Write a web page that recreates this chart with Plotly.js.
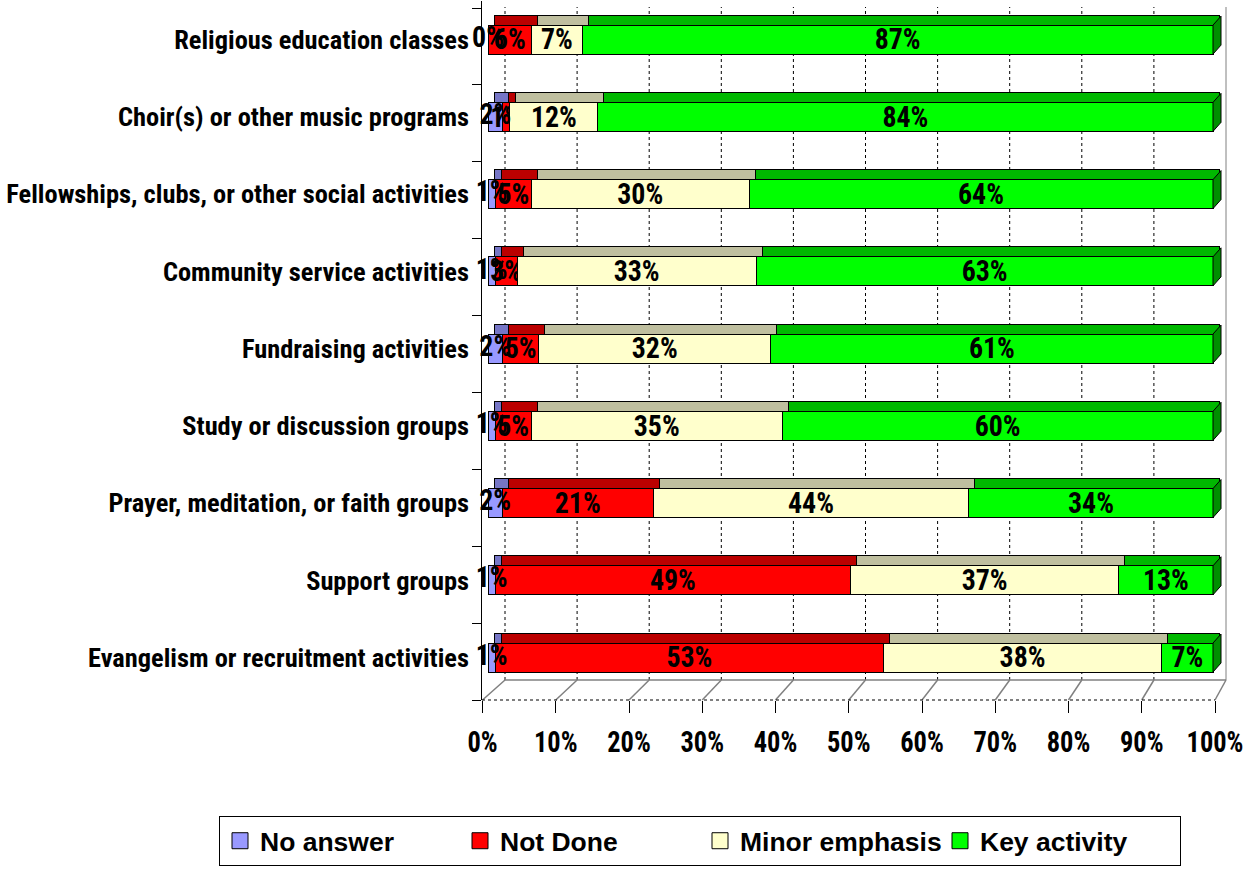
<!DOCTYPE html>
<html><head><meta charset="utf-8">
<script src="https://cdn.plot.ly/plotly-3.0.1.min.js"></script>
<style>html,body{margin:0;padding:0;background:#fff}#chart{width:1245px;height:874px}</style>
</head><body><div id="chart"></div>
<script>
// ---- data ----
const categories = [
  "Religious education classes",
  "Choir(s) or other music programs",
  "Fellowships, clubs, or other social activities",
  "Community service activities",
  "Fundraising activities",
  "Study or discussion groups",
  "Prayer, meditation, or faith groups",
  "Support groups",
  "Evangelism or recruitment activities"
];
const noAnswer      = [0, 2, 1, 1, 2, 1, 2, 1, 1];
const notDone       = [6, 1, 5, 3, 5, 5, 21, 49, 53];
const minorEmphasis = [7, 12, 30, 33, 32, 35, 44, 37, 38];
const keyActivity   = [87, 84, 64, 63, 61, 60, 34, 13, 7];
const seriesNames   = ["No answer", "Not Done", "Minor emphasis", "Key activity"];
const xTickValues   = [0, 10, 20, 30, 40, 50, 60, 70, 80, 90, 100];

// ---- styles ----
const frontColors = ["#9999ff", "#ff0000", "#ffffcc", "#00ff00"];
const topColors   = ["#7676c6", "#bb0000", "#bfbf9f", "#00b800"];
const sideColor   = "#008f00";
const WIDE = "'Liberation Sans', Arial, sans-serif";

// ---- font selection (a condensed face if one is installed) ----
function measure(text, family, size) {
  const s = document.createElement("span");
  s.style.cssText = "position:absolute;left:0;top:0;visibility:hidden;white-space:nowrap;font-weight:bold;font-size:" + size + "px;font-family:" + family;
  s.textContent = text;
  document.body.appendChild(s);
  const w = s.getBoundingClientRect().width;
  s.remove();
  return w;
}
const probe = "Fellowships, clubs, or other social activities";
const baseW = measure(probe, "'Liberation Sans'", 100);
const narrowCandidates = ["'Liberation Sans Narrow'", "'Arial Narrow'", "'DejaVu Sans Condensed'", "'Roboto Condensed'", "'Open Sans Condensed'"];
let NARROW = WIDE;
for (const f of narrowCandidates) {
  if (measure(probe, f + ", 'Liberation Sans'", 100) < baseW * 0.93) { NARROW = f + ", " + WIDE; break; }
}
function fitSize(text, family, targetPx) { return 100 * targetPx / measure(text, family, 100); }
const catSize  = fitSize(probe, NARROW, 463);
const tickSize = fitSize("100%", NARROW, 57);
const barSize  = fitSize("87%", NARROW, 46);
const legSize  = fitSize("No answer", WIDE, 134);

// ---- geometry (pixels) ----
const W = 1245, H = 874;
const L = 482, R = 1228, T = 1, B = 700;
function rangeFor(zeroPx, hundredPx) {
  const s = (hundredPx - zeroPx) / 100;
  return [(L - zeroPx) / s, (R - zeroPx) / s];
}
const yRange = [8.55, -0.5];
const pxPerCat = (B - T) / (yRange[0] - yRange[1]);
const barW = 29 / pxPerCat;
const topW = 10 / pxPerCat;
const px2paperX = p => (p - L) / (R - L);
const px2paperY = p => (B - p) / (B - T);

const allSeries = [noAnswer, notDone, minorEmphasis, keyActivity];
const totals = categories.map((c, i) => allSeries.reduce((s, a) => s + a[i], 0));

const traces = [];
// top faces (3D effect) on a slightly shifted axis
allSeries.forEach((vals, k) => {
  traces.push({
    type: "bar", orientation: "h", x: vals, y: categories,
    xaxis: "x2", yaxis: "y",
    width: topW, offset: -(barW / 2 + topW),
    marker: { color: topColors[k], line: { color: "#000", width: 1 } },
    showlegend: false, hoverinfo: "skip"
  });
});
// front faces
allSeries.forEach((vals, k) => {
  traces.push({
    type: "bar", orientation: "h", x: vals, y: categories,
    xaxis: "x", yaxis: "y",
    width: barW,
    marker: { color: frontColors[k], line: { color: "#000", width: 1 } },
    text: k === 0 ? undefined : vals.map(v => v + "%"),
    textposition: k === 0 ? "none" : "inside",
    insidetextanchor: "middle", textangle: 0, constraintext: "none",
    textfont: { family: NARROW, size: barSize, color: "#000", weight: "bold" },
    showlegend: false, hoverinfo: "skip"
  });
});
// labels of the thin "No answer" segments
traces.push({
  type: "scatter", mode: "text", xaxis: "x", yaxis: "y",
  x: noAnswer.map((v, i) => v / totals[i] * 100 / 2),
  y: categories,
  text: noAnswer.map(v => v + "%"),
  textposition: "middle center",
  textfont: { family: NARROW, size: barSize, color: "#000", weight: "bold" },
  showlegend: false, hoverinfo: "skip", cliponaxis: false
});
// legend entries
seriesNames.forEach((n, k) => {
  traces.push({
    type: "scatter", mode: "markers", x: [null], y: [null], xaxis: "x", yaxis: "y2",
    name: n,
    marker: { symbol: "square", size: 16, color: frontColors[k], line: { color: "#000", width: 1 } },
    hoverinfo: "skip"
  });
});
// anchor trace for the front tick axis
traces.push({ type: "scatter", mode: "markers", x: [null], y: [null], xaxis: "x3", yaxis: "y", showlegend: false, hoverinfo: "skip" });

// ---- decorations: back wall grid, floor, side faces ----
const shapes = [];
const backZero = 505, backHundred = 1226, frontZero = 482.5, frontHundred = 1215;
const wallTop = 7, floorBack = 680, floorFront = 700;
xTickValues.forEach(v => {
  const bx = backZero + (backHundred - backZero) * v / 100;
  const fx = frontZero + (frontHundred - frontZero) * v / 100;
  shapes.push({ type: "line", xref: "paper", yref: "paper", layer: "below",
    x0: px2paperX(bx), x1: px2paperX(bx), y0: px2paperY(floorBack), y1: px2paperY(wallTop),
    line: { color: v === 100 ? "#808080" : "#000", width: 1, dash: v === 100 ? "solid" : "dot" } });
  shapes.push({ type: "line", xref: "paper", yref: "paper", layer: "below",
    x0: px2paperX(fx), x1: px2paperX(bx), y0: px2paperY(floorFront), y1: px2paperY(floorBack),
    line: { color: "#808080", width: 1.5 } });
});
shapes.push({ type: "line", xref: "paper", yref: "paper", layer: "below",
  x0: px2paperX(backZero), x1: px2paperX(backHundred), y0: px2paperY(floorBack), y1: px2paperY(floorBack),
  line: { color: "#808080", width: 1.5 } });
shapes.push({ type: "line", xref: "paper", yref: "paper", layer: "below",
  x0: px2paperX(L), x1: px2paperX(frontHundred), y0: px2paperY(floorFront), y1: px2paperY(floorFront),
  line: { color: "#000", width: 1, dash: "dot" } });
const sideDx = 8 / 7.25, sideDy = 9 / pxPerCat;
categories.forEach((c, i) => {
  const h = barW / 2;
  shapes.push({ type: "path", xref: "x", yref: "y2", layer: "above",
    path: `M100,${i + h} L100,${i - h} L${100 + sideDx},${i - h - sideDy} L${100 + sideDx},${i + h - sideDy} Z`,
    fillcolor: sideColor, line: { color: "#000", width: 1 } });
});

const leftTicks = categories.concat([""]).map((c, i) => -0.409 + i * 0.9955);

const layout = {
  width: W, height: H,
  margin: { l: L, r: W - R, t: T, b: H - B, pad: 0, autoexpand: false },
  paper_bgcolor: "#fff", plot_bgcolor: "rgba(0,0,0,0)",
  barmode: "stack", barnorm: "percent",
  showlegend: true,
  xaxis: { range: rangeFor(488, 1213), visible: false, fixedrange: true },
  xaxis2: { range: rangeFor(494, 1219), overlaying: "x", visible: false, fixedrange: true },
  xaxis3: { range: rangeFor(frontZero, frontHundred), overlaying: "x", side: "bottom", anchor: "y",
    tickvals: xTickValues, ticktext: xTickValues.map(v => v + "%"),
    ticks: "outside", ticklen: 12, tickcolor: "#000", tickwidth: 1,
    showgrid: false, zeroline: false, showline: false,
    ticklabelstandoff: 6, ticklabeloverflow: "allow",
    tickfont: { family: NARROW, size: tickSize, color: "#000", weight: "bold" }, fixedrange: true },
  yaxis: { type: "category", categoryorder: "array", categoryarray: categories, range: yRange,
    ticks: "", showgrid: false, zeroline: false, showline: false,
    ticklabelstandoff: 12, ticklabeloverflow: "allow",
    tickfont: { family: NARROW, size: catSize, color: "#000", weight: "bold" }, fixedrange: true },
  yaxis2: { type: "linear", range: yRange, overlaying: "y", side: "left", anchor: "x",
    tickvals: leftTicks, ticks: "outside", ticklen: 9, tickcolor: "#000",
    showticklabels: false, showgrid: false, zeroline: false,
    showline: true, linecolor: "#000", linewidth: 1, fixedrange: true },
  legend: { orientation: "h", traceorder: "normal", xref: "paper", yref: "paper",
    x: px2paperX(219), xanchor: "left", y: px2paperY(816), yanchor: "top",
    entrywidth: 195, entrywidthmode: "pixels",
    bordercolor: "#000", borderwidth: 1, bgcolor: "#fff",
    font: { family: WIDE, size: legSize, color: "#000", weight: "bold" },
    itemclick: false, itemdoubleclick: false },
  shapes: shapes
};

// the reference lettering is tall and condensed: stretch condensed texts vertically
function stretchTexts(gd) {
  const groups = [
    [".ytick text", 19 / (0.72 * catSize)],
    [".x3tick text", 21.7 / (0.72 * tickSize)],
    ["text.bartext", 20.6 / (0.72 * barSize)],
    [".textpoint text", 20.6 / (0.72 * barSize)]
  ];
  groups.forEach(([sel, f]) => {
    const k = Math.max(1, Math.min(1.4, f));
    gd.querySelectorAll(sel).forEach(el => {
      const bb = el.getBBox();
      const cy = bb.y + bb.height / 2;
      const t = el.getAttribute("transform") || "";
      el.setAttribute("transform", t + ` translate(0,${cy}) scale(1,${k}) translate(0,${-cy})`);
    });
  });
}

Plotly.newPlot("chart", traces, layout, { displayModeBar: false, staticPlot: true }).then(stretchTexts);
</script>
</body></html>
